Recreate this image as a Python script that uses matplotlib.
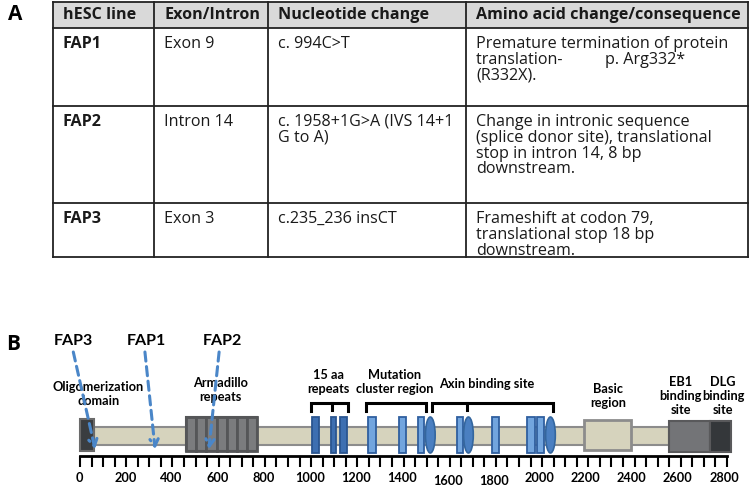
import numpy as np
import matplotlib
matplotlib.use('Agg')
import matplotlib.pyplot as plt
from matplotlib.patches import Rectangle, Ellipse, FancyArrowPatch

# ---------------- table data (panel A) ----------------
col_headers = ['hESC line', 'Exon/Intron', 'Nucleotide change', 'Amino acid change/consequence']
cell_lines = ['FAP1', 'FAP2', 'FAP3']
exon_intron = ['Exon 9', 'Intron 14', 'Exon 3']
nucleotide = ['c. 994C>T', 'c. 1958+1G>A (IVS 14+1\nG to A)', 'c.235_236 insCT']
consequence = ['Premature termination of protein\ntranslation-          p. Arg332*\n(R332X).',
               'Change in intronic sequence\n(splice donor site), translational\nstop in intron 14, 8 bp\ndownstream.',
               'Frameshift at codon 79,\ntranslational stop 18 bp\ndownstream.']

# ---------------- APC protein map (panel B), amino-acid coordinates ----------------
protein_len = 2800
backbone = (62, 2549)
oligo = (0, 62)
armadillo = (458, 768)
armadillo_n = 7
basic_region = (2181, 2385)
eb1_site = (2549, 2726)
dlg_site = (2726, 2818)
repeats_15aa = [(1005, 1034), (1085, 1107), (1125, 1154)]
repeats_20aa = [(1248, 1280), (1380, 1411), (1461, 1490), (1630, 1659),
                (1784, 1815), (1936, 1969), (1976, 2009)]
samp_sites = [1516, 1681, 2036]
brackets = [(1000, 1161, 1090), (1238, 1496, None), (1525, 2048, 1676)]
mutations = ['FAP3', 'FAP1', 'FAP2']
mutation_sites = [65, 325, 558]
mutation_label_x = [-29, 289, 617]
mutation_arrow_start = [-29, 281, 602]

fig = plt.figure(figsize=(7.51, 4.88), dpi=100)

# ---- panel A: table drawn in a pixel-space axes ----
ax_t = fig.add_axes([0, 0, 1, 1])
ax_t.set_xlim(0, 751)
ax_t.set_ylim(488, 0)
ax_t.axis('off')

tf = 'Open Sans'
fs = 11.6
col_x = [53, 154, 268, 466, 748]
row_y = [2, 28, 106, 203, 257]
ax_t.add_patch(Rectangle((col_x[0], row_y[0]), col_x[-1] - col_x[0], row_y[1] - row_y[0],
                         facecolor='#d9d9d9', edgecolor='none'))
for y in row_y:
    ax_t.plot([col_x[0], col_x[-1]], [y, y], color='#222222', lw=1.3)
for x in col_x:
    ax_t.plot([x, x], [row_y[0], row_y[-1]], color='#222222', lw=1.3)

pad = 10
for j, h in enumerate(col_headers):
    ax_t.text(col_x[j] + pad, 15, h, family=tf, fontsize=fs, fontweight='bold',
              ha='left', va='center', color='#1a1a1a')

rows = list(zip(cell_lines, exon_intron, nucleotide, consequence))
for i, row in enumerate(rows):
    y0 = row_y[i + 1] + 8
    for j, txt in enumerate(row):
        ax_t.text(col_x[j] + pad, y0, txt, family=tf, fontsize=fs,
                  fontweight='bold' if j == 0 else 'normal',
                  ha='left', va='top', linespacing=0.98, color='#1a1a1a')

ax_t.text(15, 15, 'A', family=tf, fontsize=15, fontweight='bold', ha='center', va='center')
ax_t.text(13, 345, 'B', family=tf, fontsize=15, fontweight='bold', ha='center', va='center')

# ---- panel B: protein map, x in amino acids, y in image rows ----
ax = fig.add_axes([80 / 751, 0, 647 / 751, 158 / 488])
ax.set_xlim(0, protein_len)
ax.set_ylim(488, 330)
ax.axis('off')

bf = 'Lato'
beige = '#d6d3bd'

def box(span, y0, y1, fc, ec, lw=1.5, z=2):
    ax.add_patch(Rectangle((span[0], y0), span[1] - span[0], y1 - y0, facecolor=fc,
                           edgecolor=ec, lw=lw, zorder=z, clip_on=False))

box(backbone, 427, 445, beige, '#8c8c8c', 1.5, 1)
box(oligo, 419, 451, '#3a3d40', '#6a6a6a', 1.5)
w_arm = (armadillo[1] - armadillo[0]) / armadillo_n
for k in range(armadillo_n):
    s = armadillo[0] + k * w_arm
    box((s, s + w_arm), 417, 451, '#7b7c7e', '#555658', 2.0)
box(armadillo, 417, 451, 'none', '#555658', 1.5, 3)
box(basic_region, 420, 450, beige, '#8c8c8c', 2.0)
box(eb1_site, 421, 452, '#737477', '#59595b', 1.5)
box(dlg_site, 421, 452, '#34373a', '#59595b', 1.5)

for s in repeats_15aa:
    box(s, 417, 453, '#3d6fb1', '#2a5590', 1.3, 3)
for s in repeats_20aa:
    box(s, 417, 453, '#72a5de', '#2f5f9f', 1.3, 3)
for c in samp_sites:
    ax.add_patch(Ellipse((c, 435), 42, 36, facecolor='#4a7fc1', edgecolor='#34669e',
                         lw=1.2, zorder=4, clip_on=False))

# brackets
for a, b, mid in brackets:
    ax.plot([a, a, b, b], [411, 403, 403, 411], color='black', lw=2.2, zorder=3,
            clip_on=False, solid_joinstyle='miter')
    if mid is not None:
        ax.plot([mid, mid], [403, 410], color='black', lw=2.2, zorder=3, clip_on=False)

# ruler
ax.plot([0, protein_len], [456, 456], color='black', lw=2, clip_on=False)
ax.vlines(np.arange(0, protein_len + 1, 50), 456, 467, color='black', lw=1.5, clip_on=False)
for v in np.arange(0, protein_len + 1, 200):
    dy = 3 if v in (1600, 1800) else 0
    ax.text(v - 2 - v * 0.004, 478 + dy, str(v), family=bf, fontsize=9.2, fontweight='bold',
            ha='center', va='center', clip_on=False)

# domain labels
domain_labels = [
    ('Oligomerization\ndomain', 80, 394),
    ('Armadillo\nrepeats', 606, 390),
    ('15 aa\nrepeats', 1075, 382),
    ('Mutation\ncluster region', 1360, 382),
    ('Axin binding site', 1760, 384),
    ('Basic\nregion', 2284, 396),
    ('EB1\nbinding\nsite', 2600, 396),
    ('DLG\nbinding\nsite', 2783, 396),
]
for txt, x, y in domain_labels:
    ax.text(x, y, txt, family=bf, fontsize=9.2, fontweight='bold', ha='center', va='center',
            linespacing=1.2, clip_on=False, zorder=2)

# mutation arrows
for name, site, lx, sx in zip(mutations, mutation_sites, mutation_label_x, mutation_arrow_start):
    ax.text(lx, 341, name, family=bf, fontsize=11.5, fontweight='bold', ha='center',
            va='center', clip_on=False)
    arr = FancyArrowPatch((sx, 352), (site, 449), arrowstyle='->,head_length=5,head_width=3',
                          color='#4a86c8', lw=2.2, linestyle=(0, (3, 1.8)), zorder=6,
                          clip_on=False, shrinkA=0, shrinkB=0)
    ax.add_patch(arr)

fig.savefig('out.png', dpi=100)
